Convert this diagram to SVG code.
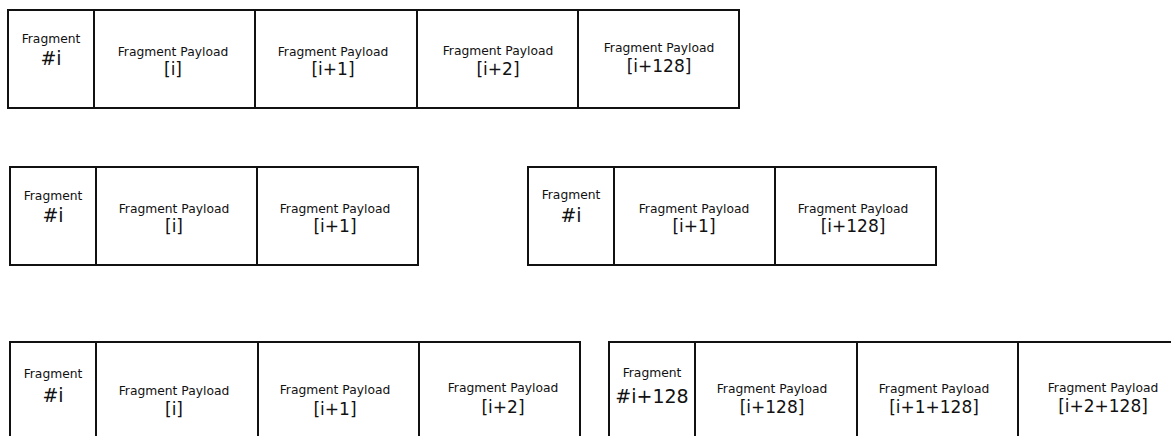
<svg xmlns="http://www.w3.org/2000/svg" width="1171" height="436" viewBox="0 0 1171 436">
<style>
rect{fill:#fff;stroke:#111;stroke-width:2}
text{font-family:"DejaVu Sans",sans-serif;fill:#111;text-anchor:middle}
.s{font-size:12.3px}
.h{font-size:19px}
.b{font-size:17px}
</style>
<g id="row1">
<g id="r1c0"><rect x="8" y="10" width="86" height="98"/><text class="s" x="51" y="43">Fragment</text><text class="h" x="51" y="65">#i</text></g>
<g id="r1c1"><rect x="94" y="10" width="161" height="98"/><text class="s" x="173" y="56">Fragment Payload</text><text class="b" x="173" y="75">[i]</text></g>
<g id="r1c2"><rect x="255" y="10" width="162" height="98"/><text class="s" x="333" y="56">Fragment Payload</text><text class="b" x="333" y="75">[i+1]</text></g>
<g id="r1c3"><rect x="417" y="10" width="161" height="98"/><text class="s" x="498" y="55">Fragment Payload</text><text class="b" x="498" y="75">[i+2]</text></g>
<g id="r1c4"><rect x="578" y="10" width="161" height="98"/><text class="s" x="659" y="52">Fragment Payload</text><text class="b" x="659" y="72">[i+128]</text></g>
</g>
<g id="row2a">
<g id="r2c0"><rect x="10" y="167" width="86" height="98"/><text class="s" x="53" y="200">Fragment</text><text class="h" x="53" y="222">#i</text></g>
<g id="r2c1"><rect x="96" y="167" width="161" height="98"/><text class="s" x="174" y="213">Fragment Payload</text><text class="b" x="174" y="232">[i]</text></g>
<g id="r2c2"><rect x="257" y="167" width="161" height="98"/><text class="s" x="335" y="213">Fragment Payload</text><text class="b" x="335" y="232">[i+1]</text></g>
</g>
<g id="row2b">
<g id="r2c3"><rect x="528" y="167" width="86" height="98"/><text class="s" x="571" y="199">Fragment</text><text class="h" x="571" y="222">#i</text></g>
<g id="r2c4"><rect x="614" y="167" width="161" height="98"/><text class="s" x="694" y="213">Fragment Payload</text><text class="b" x="694" y="232">[i+1]</text></g>
<g id="r2c5"><rect x="775" y="167" width="161" height="98"/><text class="s" x="853" y="213">Fragment Payload</text><text class="b" x="853" y="232">[i+128]</text></g>
</g>
<g id="row3a">
<g id="r3c0"><rect x="10" y="342" width="86" height="110"/><text class="s" x="53" y="378">Fragment</text><text class="h" x="53" y="402">#i</text></g>
<g id="r3c1"><rect x="96" y="342" width="162" height="110"/><text class="s" x="174" y="395">Fragment Payload</text><text class="b" x="174" y="415">[i]</text></g>
<g id="r3c2"><rect x="258" y="342" width="161" height="110"/><text class="s" x="335" y="394">Fragment Payload</text><text class="b" x="335" y="415">[i+1]</text></g>
<g id="r3c3"><rect x="419" y="342" width="161" height="110"/><text class="s" x="503" y="392">Fragment Payload</text><text class="b" x="503" y="413">[i+2]</text></g>
</g>
<g id="row3b">
<g id="r3c4"><rect x="609" y="342" width="86" height="110"/><text class="s" x="652" y="377">Fragment</text><text class="h" x="652" y="403">#i+128</text></g>
<g id="r3c5"><rect x="695" y="342" width="162" height="110"/><text class="s" x="772" y="393">Fragment Payload</text><text class="b" x="772" y="413">[i+128]</text></g>
<g id="r3c6"><rect x="857" y="342" width="161" height="110"/><text class="s" x="934" y="393">Fragment Payload</text><text class="b" x="934" y="413">[i+1+128]</text></g>
<g id="r3c7"><rect x="1018" y="342" width="170" height="110"/><text class="s" x="1103" y="392">Fragment Payload</text><text class="b" x="1103" y="412">[i+2+128]</text></g>
</g>
<g id="connectors"/>
</svg>
